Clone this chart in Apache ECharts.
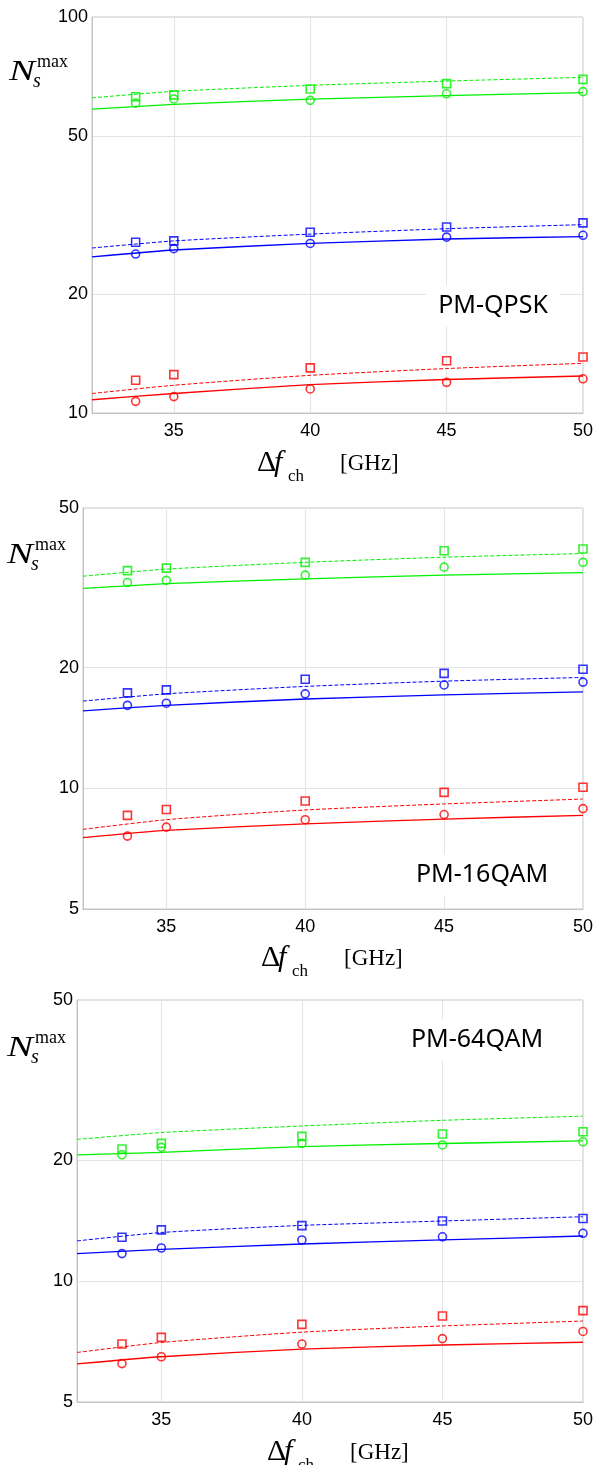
<!DOCTYPE html>
<html><head><meta charset="utf-8">
<script src="https://cdn.jsdelivr.net/npm/echarts@6/dist/echarts.min.js"></script>
<style>html,body{margin:0;padding:0;background:#fff}#c{width:597px;height:1465px}</style>
</head><body><div id="c"></div>
<script>
// ---- data ----
const lineX = [32, 35, 40, 45, 50];
const markX = [33.6, 35, 40, 45, 50];
const xTicks = [35, 40, 45, 50];
const yTicks1 = [10, 20, 50, 100];
const yTicks2 = [5, 10, 20, 50];
const yTicks3 = [5, 10, 20, 50];
const panelNames = ['PM-QPSK', 'PM-16QAM', 'PM-64QAM'];

// PM-QPSK
const qpskGreenDash = [62.5, 64.9, 67.2, 68.9, 70.4];
const qpskGreenSolid = [58.5, 60.2, 62.0, 63.3, 64.4];
const qpskBlueDash = [26.1, 27.2, 28.3, 29.2, 29.9];
const qpskBlueSolid = [24.8, 25.8, 26.8, 27.5, 27.9];
const qpskRedDash = [11.2, 11.75, 12.45, 12.95, 13.35];
const qpskRedSolid = [10.8, 11.2, 11.8, 12.15, 12.4];
const qpskGreenSq = [62.9, 63.6, 65.8, 67.9, 69.6];
const qpskGreenCi = [60.6, 62.1, 61.6, 64.0, 64.8];
const qpskBlueSq = [27.0, 27.2, 28.6, 29.5, 30.2];
const qpskBlueCi = [25.2, 26.0, 26.8, 27.8, 28.1];
const qpskRedSq = [12.1, 12.5, 13.0, 13.55, 13.85];
const qpskRedCi = [10.7, 11.0, 11.5, 11.95, 12.2];

// PM-16QAM
const q16GreenDash = [33.8, 35.2, 36.6, 37.7, 38.5];
const q16GreenSolid = [31.5, 32.4, 33.3, 34.0, 34.5];
const q16BlueDash = [16.5, 17.2, 17.95, 18.5, 18.9];
const q16BlueSolid = [15.6, 16.1, 16.7, 17.1, 17.4];
const q16RedDash = [7.9, 8.35, 8.83, 9.14, 9.4];
const q16RedSolid = [7.53, 7.85, 8.15, 8.38, 8.56];
const q16GreenSq = [34.9, 35.4, 36.6, 39.1, 39.5];
const q16GreenCi = [32.6, 33.0, 34.0, 35.6, 36.6];
const q16BlueSq = [17.3, 17.6, 18.7, 19.35, 19.8];
const q16BlueCi = [16.1, 16.3, 17.2, 18.1, 18.4];
const q16RedSq = [8.56, 8.85, 9.3, 9.77, 10.06];
const q16RedCi = [7.6, 8.0, 8.35, 8.6, 8.9];

// PM-64QAM
const q64GreenDash = [22.5, 23.4, 24.3, 25.1, 25.7];
const q64GreenSolid = [20.6, 20.9, 21.6, 21.98, 22.3];
const q64BlueDash = [12.58, 13.2, 13.75, 14.1, 14.45];
const q64BlueSolid = [11.7, 11.99, 12.36, 12.65, 12.94];
const q64RedDash = [6.64, 7.03, 7.46, 7.73, 7.95];
const q64RedSolid = [6.22, 6.48, 6.77, 6.93, 7.04];
const q64GreenSq = [21.3, 22.0, 22.9, 23.2, 23.5];
const q64GreenCi = [20.6, 21.5, 22.0, 21.8, 22.2];
const q64BlueSq = [12.85, 13.4, 13.73, 14.1, 14.3];
const q64BlueCi = [11.7, 12.08, 12.65, 12.88, 13.14];
const q64RedSq = [6.97, 7.24, 7.8, 8.18, 8.44];
const q64RedCi = [6.23, 6.48, 6.97, 7.19, 7.49];

// ---- styling / layout ----
const GREEN = '#00f000', BLUE = '#0000ff', RED = '#ff0000';
const grids = [
  {left: 92, top: 17, right: 14, height: 396},
  {left: 83, top: 508, right: 14, height: 401},
  {left: 77, top: 1000, right: 14, height: 402}
];
const yRanges = [[10, 100, yTicks1], [5, 50, yTicks2], [5, 50, yTicks3]];
const panels = [
  [[qpskGreenDash, qpskGreenSolid, qpskGreenSq, qpskGreenCi, GREEN],
   [qpskBlueDash, qpskBlueSolid, qpskBlueSq, qpskBlueCi, BLUE],
   [qpskRedDash, qpskRedSolid, qpskRedSq, qpskRedCi, RED]],
  [[q16GreenDash, q16GreenSolid, q16GreenSq, q16GreenCi, GREEN],
   [q16BlueDash, q16BlueSolid, q16BlueSq, q16BlueCi, BLUE],
   [q16RedDash, q16RedSolid, q16RedSq, q16RedCi, RED]],
  [[q64GreenDash, q64GreenSolid, q64GreenSq, q64GreenCi, GREEN],
   [q64BlueDash, q64BlueSolid, q64BlueSq, q64BlueCi, BLUE],
   [q64RedDash, q64RedSolid, q64RedSq, q64RedCi, RED]]
];

const SANS = '"Liberation Sans", Arial, sans-serif';
const SERIF = '"Liberation Serif", "Times New Roman", serif';

const grid = grids.map(g => Object.assign({show: true, borderColor: '#c4c4c4', borderWidth: 1, containLabel: false}, g));
const xAxis = grids.map((g, i) => ({
  gridIndex: i, type: 'value', min: 32, max: 50,
  axisLine: {show: true, onZero: false, lineStyle: {color: '#c4c4c4'}},
  axisTick: {show: false, customValues: xTicks},
  axisLabel: {customValues: xTicks, color: '#000', fontSize: 18, fontFamily: SANS, margin: 9},
  splitLine: {show: true, lineStyle: {color: '#e4e4e4', width: 1}}
}));
const yAxis = yRanges.map((r, i) => ({
  gridIndex: i, type: 'log', logBase: 10, min: r[0], max: r[1],
  axisLine: {show: true, lineStyle: {color: '#c4c4c4'}},
  axisTick: {show: false, customValues: r[2]},
  axisLabel: {customValues: r[2], color: '#000', fontSize: 18, fontFamily: SANS, margin: 4},
  splitLine: {show: true, lineStyle: {color: '#e4e4e4', width: 1}},
  minorTick: {show: false}, minorSplitLine: {show: false}
}));

const series = [];
panels.forEach((groups, i) => {
  groups.forEach(([dash, solid, sq, ci, color]) => {
    series.push({type: 'line', xAxisIndex: i, yAxisIndex: i, showSymbol: false, smooth: 0.2,
      data: lineX.map((x, k) => [x, dash[k]]), lineStyle: {color, width: 1, type: [4, 2]}, silent: true, z: 2});
    series.push({type: 'line', xAxisIndex: i, yAxisIndex: i, showSymbol: false, smooth: 0.2,
      data: lineX.map((x, k) => [x, solid[k]]), lineStyle: {color, width: 1.3, type: 'solid'}, silent: true, z: 2});
    series.push({type: 'scatter', xAxisIndex: i, yAxisIndex: i, symbol: 'rect', symbolSize: 8,
      data: markX.map((x, k) => [x, sq[k]]), itemStyle: {color: 'rgba(255,255,255,0)', borderColor: color, borderWidth: 1.6}, silent: true, z: 3});
    series.push({type: 'scatter', xAxisIndex: i, yAxisIndex: i, symbol: 'circle', symbolSize: 8,
      data: markX.map((x, k) => [x, ci[k]]), itemStyle: {color: 'rgba(255,255,255,0)', borderColor: color, borderWidth: 1.6}, silent: true, z: 3});
  });
});

function txt(text, x, y, font, extra) {
  return Object.assign({type: 'text', z: 50, silent: true,
    style: {text, x, y, font, fill: '#000', align: 'left', textAlign: 'left', verticalAlign: 'middle', textVerticalAlign: 'middle'}}, extra || {});
}
const graphic = [];
// y-axis titles N_s^max
const yTitlePos = [[9, 0], [7, 483], [7, 976]];
yTitlePos.forEach(([dx, dy]) => {
  graphic.push({type: 'text', z: 50, silent: true, x: dx, y: 72 + dy, scaleX: 1.3,
    style: {text: 'N', x: 0, y: 0, font: 'italic 30px ' + SERIF, fill: '#000', align: 'left', textAlign: 'left', verticalAlign: 'middle', textVerticalAlign: 'middle'}});
  graphic.push(txt('max', dx + 28, 62 + dy, '18px ' + SERIF));
  graphic.push(txt('s', dx + 24, 82 + dy, 'italic 20px ' + SERIF));
});
// x-axis titles
const xTitlePos = [[0, 0], [4, 495], [10, 989]];
xTitlePos.forEach(([dx, dy]) => {
  graphic.push(txt('Δ', 257 + dx, 463 + dy, '30px ' + SERIF));
  graphic.push(txt('f', 274 + dx, 463 + dy, 'italic 30px ' + SERIF));
  graphic.push(txt('ch', 288 + dx, 477 + dy, '17px ' + SERIF));
  graphic.push(txt('[GHz]', 340 + dx, 464 + dy, '23px ' + SERIF));
});
// panel labels
const labelPos = [[493, 306], [482, 875], [477, 1040]];
labelPos.forEach(([x, y], i) => {
  graphic.push({type: 'text', z: 40, silent: true,
    style: {text: panelNames[i], x, y, font: '25px "Noto Sans", sans-serif', fill: '#000',
      align: 'center', textAlign: 'center', verticalAlign: 'middle', textVerticalAlign: 'middle',
      backgroundColor: '#fff', padding: [8, 12, 8, 12]}});
});

const chart = echarts.init(document.getElementById('c'), null, {renderer: 'canvas'});
chart.setOption({animation: false, backgroundColor: '#fff', grid, xAxis, yAxis, series, graphic});
</script></body></html>
